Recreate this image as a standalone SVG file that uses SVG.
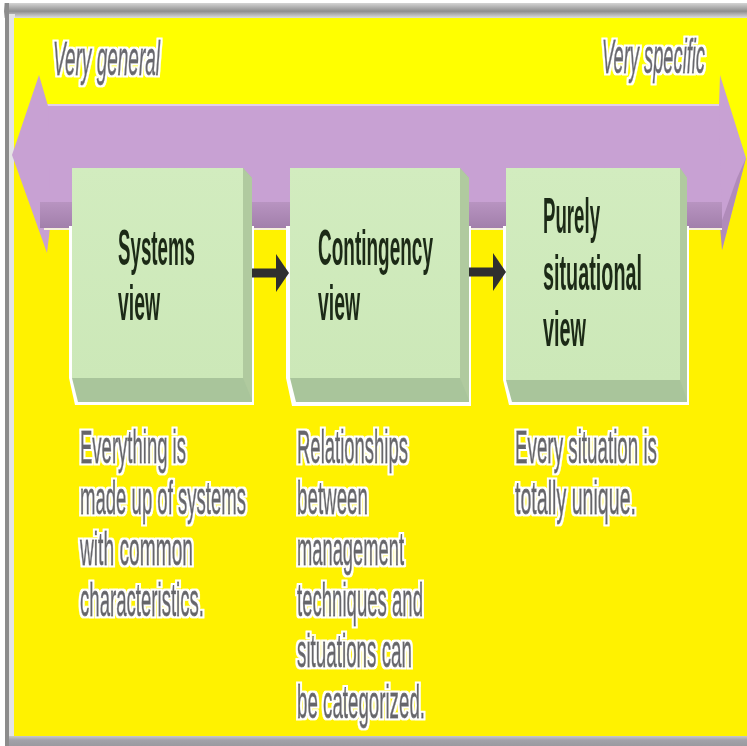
<svg xmlns="http://www.w3.org/2000/svg" width="747" height="746" viewBox="0 0 747 746">
<defs>
<linearGradient id="topBar" x1="0" y1="0" x2="0" y2="1">
<stop offset="0" stop-color="#d4d4d4"/><stop offset="0.55" stop-color="#8e8e8e"/><stop offset="1" stop-color="#dedede"/>
</linearGradient>
<linearGradient id="botBar" x1="0" y1="0" x2="0" y2="1">
<stop offset="0" stop-color="#c8c8c8"/><stop offset="0.4" stop-color="#a2a2aa"/><stop offset="1" stop-color="#9a9aa0"/>
</linearGradient>
<linearGradient id="band" x1="0" y1="0" x2="0" y2="1">
<stop offset="0" stop-color="#b894c1"/><stop offset="1" stop-color="#a27fab"/>
</linearGradient>
<linearGradient id="front" x1="0" y1="0" x2="0" y2="1">
<stop offset="0" stop-color="#d2ecbf"/><stop offset="1" stop-color="#cce8b8"/>
</linearGradient>
<filter id="soft" x="-5%" y="-10%" width="110%" height="120%"><feGaussianBlur stdDeviation="0.55"/></filter>
<filter id="glow" x="-5%" y="-15%" width="110%" height="130%">
<feMorphology in="SourceAlpha" operator="dilate" radius="1.6" result="d"/>
<feFlood flood-color="#ffffff"/>
<feComposite in2="d" operator="in" result="w"/>
<feGaussianBlur in="w" stdDeviation="0.7" result="wb"/>
<feGaussianBlur in="SourceGraphic" stdDeviation="0.5" result="s"/>
<feMerge><feMergeNode in="wb"/><feMergeNode in="s"/></feMerge>
</filter>
<marker id="head" markerUnits="userSpaceOnUse" markerWidth="14" markerHeight="38" refX="0" refY="19" orient="auto">
<path d="M0,0 L13,19 L0,38 Z" fill="#2f2f2f"/>
</marker>
<style>
.desc{font-family:"Liberation Sans",Arial,sans-serif;font-size:46px;fill:#66666b;stroke:#66666b;stroke-width:0.8;filter:url(#glow)}
.hdr{font-family:"Liberation Sans",Arial,sans-serif;font-size:48px;font-style:italic;fill:#68686e;stroke:#68686e;stroke-width:0.8;filter:url(#glow)}
.lbl{font-family:"Liberation Sans",Arial,sans-serif;font-size:50px;font-weight:bold;fill:#1c2a18;filter:url(#soft)}
.face{fill:url(#front)}
.depth{fill:#a9c59b}
.side{fill:#b0ca9f}
.halo{fill:#ffffff}
.purple{fill:#c8a1d3}
.conn{stroke:#2f2f2f;stroke-width:9;fill:none;marker-end:url(#head)}
</style>
</defs>

<!-- frame -->
<rect x="0" y="0" width="747" height="746" fill="#ffffff"/>
<rect x="4" y="3" width="743" height="15" fill="url(#topBar)"/>
<rect x="5" y="3" width="4" height="743" fill="#8c8c8c"/>
<rect x="9" y="14" width="6" height="732" fill="#e4e4e4"/>
<rect x="9" y="736" width="738" height="10" fill="url(#botBar)"/>
<rect x="14" y="18" width="733" height="718" fill="#fff200"/>
<rect x="14" y="18" width="733" height="140" fill="#ffff00"/>

<!-- spectrum arrow -->
<g id="spectrum">
<rect x="44" y="104" width="680" height="3" fill="#e2cfe8"/>
<rect x="44" y="106" width="680" height="122" class="purple"/>
<path d="M48,106 L39,75 L12,155 L47,253 L50,228 Z" class="purple"/>
<path d="M719,106 L720,75 L746,158 L722,250 L722,228 Z" class="purple"/>
<path d="M746,158 L722,250 L720,226 L737,178 Z" fill="#b08bba"/>
<rect x="40" y="202" width="682" height="26" fill="url(#band)"/>
<rect x="44" y="228" width="678" height="2" fill="#f6f0dc"/>
</g>

<!-- headers -->
<text class="hdr" x="53" y="75" textLength="107" lengthAdjust="spacingAndGlyphs">Very general</text>
<text class="hdr" x="602" y="73" textLength="103" lengthAdjust="spacingAndGlyphs">Very specific</text>

<!-- nodes -->
<g id="systems">
<path class="halo" d="M69,226 L69,378 L75,405 L254,405 L254,226 Z"/>
<path class="depth" d="M243,168 L252,178 L252,402 L78,402 L72,378 L243,378 Z"/>
<path class="side" d="M243,168 L252,178 L252,400 L243,378 Z"/>
<rect class="face" x="72" y="168" width="171" height="210"/>
<text class="lbl" x="118" y="265" textLength="77" lengthAdjust="spacingAndGlyphs">Systems</text>
<text class="lbl" x="118" y="320" textLength="42" lengthAdjust="spacingAndGlyphs">view</text>
</g>

<g id="contingency">
<path class="halo" d="M286,226 L286,378 L292,406 L471,406 L471,226 Z"/>
<path class="depth" d="M460,168 L469,178 L469,402 L296,402 L290,378 L460,378 Z"/>
<path class="side" d="M460,168 L469,178 L469,400 L460,378 Z"/>
<rect class="face" x="290" y="168" width="170" height="210"/>
<text class="lbl" x="318" y="265" textLength="115" lengthAdjust="spacingAndGlyphs">Contingency</text>
<text class="lbl" x="318" y="320" textLength="42" lengthAdjust="spacingAndGlyphs">view</text>
</g>

<g id="situational">
<path class="halo" d="M503,226 L503,380 L509,405 L689,405 L689,226 Z"/>
<path class="depth" d="M680,168 L687,178 L687,402 L512,402 L506,380 L680,380 Z"/>
<path class="side" d="M680,168 L687,178 L687,400 L680,380 Z"/>
<rect class="face" x="506" y="168" width="174" height="212"/>
<text class="lbl" x="543" y="233" textLength="57" lengthAdjust="spacingAndGlyphs">Purely</text>
<text class="lbl" x="543" y="290" textLength="99" lengthAdjust="spacingAndGlyphs">situational</text>
<text class="lbl" x="543" y="346" textLength="43" lengthAdjust="spacingAndGlyphs">view</text>
</g>

<!-- connectors -->
<g id="connectors">
<line class="conn" x1="252" y1="273" x2="276" y2="273"/>
<line class="conn" x1="469" y1="272" x2="493" y2="272"/>
</g>

<!-- descriptions -->
<g id="desc-systems">
<text class="desc" x="80" y="463" textLength="106" lengthAdjust="spacingAndGlyphs">Everything is</text>
<text class="desc" x="80" y="514" textLength="166" lengthAdjust="spacingAndGlyphs">made up of systems</text>
<text class="desc" x="80" y="565" textLength="113" lengthAdjust="spacingAndGlyphs">with common</text>
<text class="desc" x="80" y="616" textLength="124" lengthAdjust="spacingAndGlyphs">characteristics.</text>
</g>
<g id="desc-contingency">
<text class="desc" x="297" y="463" textLength="111" lengthAdjust="spacingAndGlyphs">Relationships</text>
<text class="desc" x="297" y="514" textLength="71" lengthAdjust="spacingAndGlyphs">between</text>
<text class="desc" x="297" y="565" textLength="107" lengthAdjust="spacingAndGlyphs">management</text>
<text class="desc" x="297" y="616" textLength="126" lengthAdjust="spacingAndGlyphs">techniques and</text>
<text class="desc" x="297" y="667" textLength="115" lengthAdjust="spacingAndGlyphs">situations can</text>
<text class="desc" x="297" y="718" textLength="128" lengthAdjust="spacingAndGlyphs">be categorized.</text>
</g>
<g id="desc-situational">
<text class="desc" x="515" y="463" textLength="142" lengthAdjust="spacingAndGlyphs">Every situation is</text>
<text class="desc" x="515" y="514" textLength="121" lengthAdjust="spacingAndGlyphs">totally unique.</text>
</g>
</svg>
